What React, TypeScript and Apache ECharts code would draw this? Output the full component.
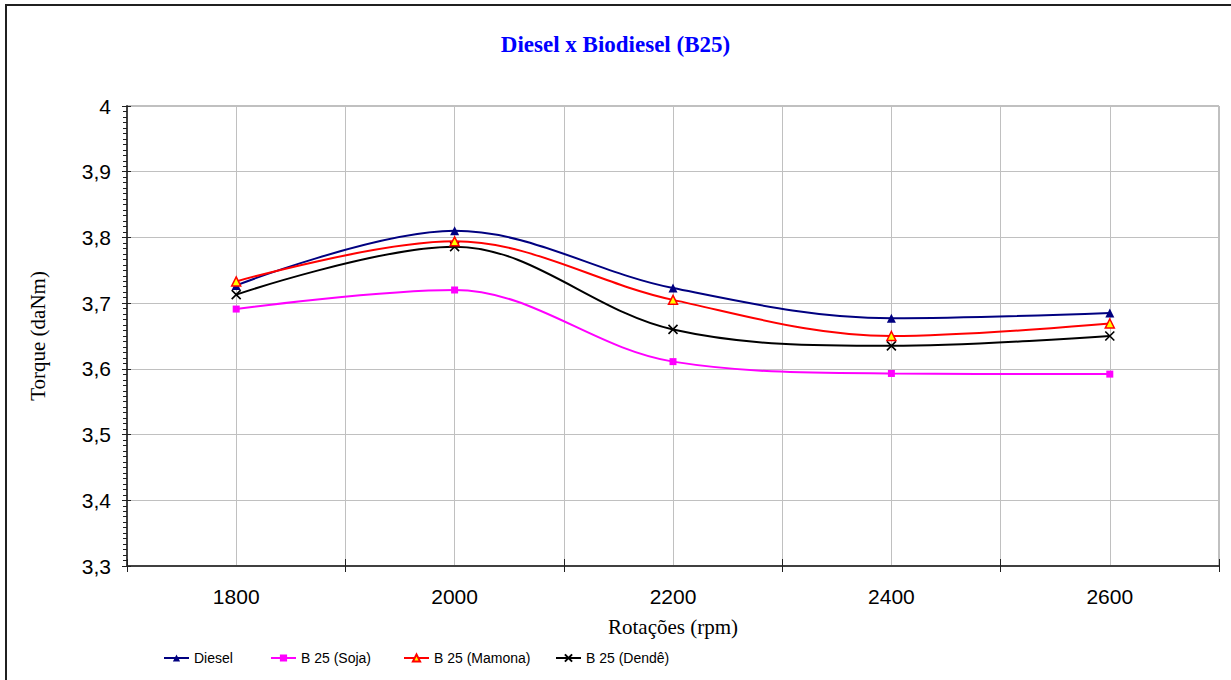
import React, { useEffect, useRef } from "react";
import * as echarts from "echarts";

const rpm = [1800, 2000, 2200, 2400, 2600];
const diesel = [3.727, 3.81, 3.723, 3.677, 3.685];
const soja = [3.691, 3.72, 3.611, 3.593, 3.592];
const mamona = [3.733, 3.794, 3.705, 3.65, 3.669];
const dende = [3.713, 3.786, 3.66, 3.635, 3.65];
const seriesNames = ["Diesel", "B 25 (Soja)", "B 25 (Mamona)", "B 25 (Dendê)"];
const titleText = "Diesel x Biodiesel (B25)";
const xName = "Rotações (rpm)";
const yName = "Torque (daNm)";

const pair = (vals: number[]) => rpm.map((r, i) => [r, vals[i]]);

export default function App() {
  const ref = useRef<HTMLDivElement>(null);
  useEffect(() => {
    if (!ref.current) return;
    const chart = echarts.init(ref.current, null, { renderer: "svg" });
    const sans = "'Liberation Sans', Arial, sans-serif";
    const serif = "'Liberation Serif', 'Times New Roman', serif";
    const legendLefts = [163, 270, 403, 555];
    const smooth = 0.35;
    chart.setOption({
      animation: false,
      backgroundColor: "#ffffff",
      title: {
        text: titleText,
        left: "center",
        top: 28,
        textStyle: { fontFamily: serif, fontWeight: "bold", fontSize: 23, color: "#0000FF" },
      },
      graphic: [
        {
          type: "rect",
          shape: { x: 6, y: 5, width: 1300, height: 800 },
          style: { fill: "none", stroke: "#202020", lineWidth: 2 },
          silent: true,
        },
      ],
      grid: {
        left: 127,
        right: 12,
        top: 106,
        bottom: 114,
        show: true,
        borderColor: "#808080",
        borderWidth: 1,
      },
      legend: seriesNames.map((n, i) => ({
        data: [n],
        left: legendLefts[i],
        top: 651,
        padding: 0,
        itemWidth: 25,
        itemHeight: 9,
        textStyle: { fontFamily: sans, fontSize: 14, color: "#000" },
      })),
      xAxis: [
        {
          type: "value",
          min: 1700,
          max: 2700,
          interval: 100,
          name: xName,
          nameLocation: "middle",
          nameGap: 50,
          nameTextStyle: { fontFamily: serif, fontSize: 21, color: "#000" },
          axisLine: { show: true, lineStyle: { color: "#404040", width: 2 } },
          axisTick: { show: false },
          axisLabel: {
            fontFamily: sans,
            fontSize: 21,
            color: "#000",
            margin: 20,
            formatter: (v: number) => (Math.round(v) % 200 === 0 ? String(Math.round(v)) : ""),
          },
          splitLine: { show: true, lineStyle: { color: "#C0C0C0", width: 1 } },
        },
        {
          type: "value",
          min: 0,
          max: 1000,
          interval: 200,
          position: "bottom",
          axisLine: { show: false },
          axisTick: { show: true, length: 6, lineStyle: { color: "#202020", width: 1 } },
          axisLabel: { show: false },
          splitLine: { show: false },
        },
        {
          type: "value",
          min: 0,
          max: 1000,
          interval: 200,
          position: "bottom",
          axisLine: { show: false },
          axisTick: { show: true, inside: true, length: 7, lineStyle: { color: "#202020", width: 1 } },
          axisLabel: { show: false },
          splitLine: { show: false },
        },
      ],
      yAxis: [
        {
          type: "value",
          min: 3.3,
          max: 4,
          interval: 0.1,
          name: yName,
          nameLocation: "middle",
          nameGap: 79,
          nameTextStyle: { fontFamily: serif, fontSize: 21, color: "#000" },
          axisLine: { show: true, lineStyle: { color: "#404040", width: 2 } },
          axisTick: { show: true, length: 5, lineStyle: { color: "#202020", width: 1 } },
          minorTick: { show: true, splitNumber: 12, length: 4, lineStyle: { color: "#202020", width: 1 } },
          axisLabel: {
            fontFamily: sans,
            fontSize: 21,
            color: "#000",
            margin: 16,
            formatter: (v: number) => String(Math.round(v * 10) / 10).replace(".", ","),
          },
          splitLine: { show: true, lineStyle: { color: "#C0C0C0", width: 1 } },
        },
        {
          type: "value",
          min: 3.3,
          max: 4,
          interval: 0.1,
          position: "left",
          axisLine: { show: false },
          axisTick: { show: true, inside: true, length: 4, lineStyle: { color: "#202020", width: 1 } },
          axisLabel: { show: false },
          splitLine: { show: false },
        },
      ],
      series: [
        {
          name: seriesNames[0],
          type: "line",
          data: pair(diesel),
          smooth,
          symbol: "triangle",
          symbolSize: 9,
          color: "#000080",
          lineStyle: { color: "#000080", width: 2 },
          itemStyle: { color: "#000080" },
          z: 5,
        },
        {
          name: seriesNames[1],
          type: "line",
          data: pair(soja),
          smooth,
          symbol: "rect",
          symbolSize: 7,
          color: "#FF00FF",
          lineStyle: { color: "#FF00FF", width: 2 },
          itemStyle: { color: "#FF00FF" },
          z: 5,
        },
        {
          name: seriesNames[2],
          type: "line",
          data: pair(mamona),
          smooth,
          symbol: "triangle",
          symbolSize: 9,
          color: "#FF0000",
          lineStyle: { color: "#FF0000", width: 2 },
          itemStyle: { color: "#FFFF00", borderColor: "#FF0000", borderWidth: 1.5 },
          z: 6,
        },
        {
          name: seriesNames[3],
          type: "line",
          data: pair(dende),
          smooth,
          symbol: "path://M0,0L10,10M10,0L0,10",
          symbolSize: 9,
          color: "#000000",
          lineStyle: { color: "#000000", width: 2 },
          itemStyle: { color: "#000000", borderColor: "#000000", borderWidth: 1.6 },
          z: 5,
        },
      ],
    });
    return () => chart.dispose();
  }, []);
  return (
    <div
      ref={ref}
      style={{ position: "absolute", left: 0, top: 0, width: 1231, height: 680 }}
    />
  );
}
